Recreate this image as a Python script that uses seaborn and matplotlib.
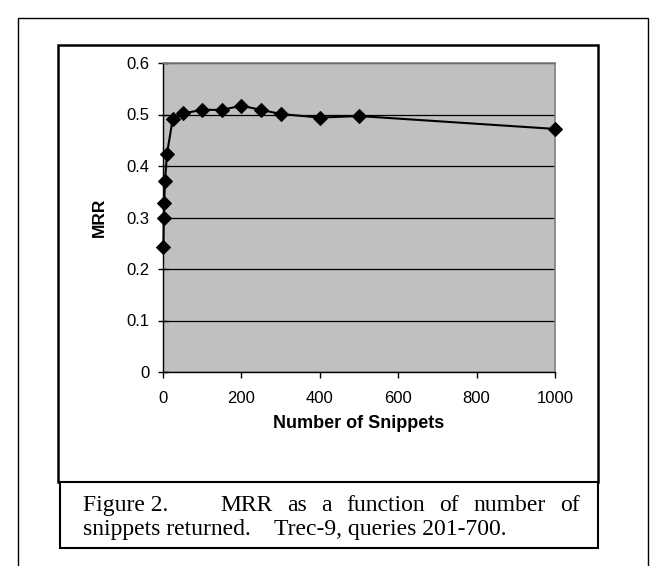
import matplotlib
matplotlib.use("Agg")
import matplotlib.pyplot as plt
import seaborn as sns
import pandas as pd
from matplotlib.patches import Rectangle

# ---- data ----
snippets = [1, 2, 3, 5, 10, 25, 50, 100, 150, 200, 250, 300, 400, 500, 1000]
mrr = [0.242, 0.300, 0.329, 0.370, 0.423, 0.492, 0.502, 0.509, 0.509, 0.517,
       0.509, 0.501, 0.494, 0.497, 0.472]
x_ticks = [0, 200, 400, 600, 800, 1000]
y_ticks = [0, 0.1, 0.2, 0.3, 0.4, 0.5, 0.6]
y_tick_labels = ["0", "0.1", "0.2", "0.3", "0.4", "0.5", "0.6"]
x_label = "Number of Snippets"
y_label = "MRR"
caption_line1_head = "Figure 2."
caption_line1_words = ["MRR", "as", "a", "function", "of", "number", "of"]
caption_line2_head = "snippets returned."
caption_line2_tail = "Trec-9, queries 201-700."

W, H = 660, 566
fig = plt.figure(figsize=(W / 100, H / 100), dpi=100)
fig.patch.set_facecolor("white")


def fx(px):
    return px / W


def fy(py):
    return 1 - py / H


sans = ["Liberation Sans", "DejaVu Sans"]
serif = ["Liberation Serif", "DejaVu Serif"]

# frames
fig.patches.append(Rectangle((fx(18), fy(570)), fx(648) - fx(18), fy(18) - fy(570),
                             transform=fig.transFigure, fill=False, lw=1.0,
                             edgecolor="black", zorder=0))
fig.patches.append(Rectangle((fx(58), fy(482)), fx(598) - fx(58), fy(45) - fy(482),
                             transform=fig.transFigure, fill=False, lw=1.8,
                             edgecolor="black", zorder=0))
fig.patches.append(Rectangle((fx(60), fy(548)), fx(598) - fx(60), fy(482) - fy(548),
                             transform=fig.transFigure, facecolor="white", lw=1.5,
                             edgecolor="black", zorder=1))

ax = fig.add_axes([fx(163), fy(372), fx(555) - fx(163), fy(63) - fy(372)])
df = pd.DataFrame({"snippets": snippets, "mrr": mrr})
sns.lineplot(data=df, x="snippets", y="mrr", ax=ax, color="black", marker="D",
             markersize=7.5, linewidth=1.5, markeredgecolor="black", clip_on=False,
             zorder=5)
ax.set_facecolor("#C0C0C0")
ax.set_xlim(0, 1000)
ax.set_ylim(0, 0.6)
ax.set_xticks(x_ticks)
ax.set_xticklabels([str(t) for t in x_ticks], fontfamily=sans, fontsize=12)
ax.set_yticks(y_ticks)
ax.set_yticklabels(y_tick_labels, fontfamily=sans, fontsize=12)
ax.tick_params(axis="x", direction="out", length=4, width=1, color="black", pad=10)
ax.tick_params(axis="y", direction="inout", length=7, width=1, color="black", pad=6)
ax.grid(axis="y", color="black", linewidth=0.9)
ax.grid(axis="x", visible=False)
ax.set_axisbelow(True)
for s in ["top", "right"]:
    ax.spines[s].set_color("#808080")
    ax.spines[s].set_linewidth(1.2)
for s in ["left", "bottom"]:
    ax.spines[s].set_color("black")
    ax.spines[s].set_linewidth(1.0)
ax.set_xlabel(x_label, fontfamily=sans, fontsize=13, fontweight="bold", labelpad=6)
ax.set_ylabel(y_label, fontfamily=sans, fontsize=12.5, fontweight="bold", labelpad=14)

# caption
cap_fs = 17
fig.text(fx(83), fy(511), caption_line1_head, fontfamily=serif, fontsize=cap_fs,
         va="baseline", ha="left")
fig.canvas.draw()
renderer = fig.canvas.get_renderer()
# justify the rest of line 1 between its start and the right margin
texts = [fig.text(0, fy(511), w, fontfamily=serif, fontsize=cap_fs,
                  va="baseline", ha="left") for w in caption_line1_words]
widths = [t.get_window_extent(renderer).width for t in texts]
start, end = 220, 580
gap = (end - start - sum(widths)) / (len(widths) - 1)
x = start
for t, w in zip(texts, widths):
    t.set_x(fx(x))
    x += w + gap
fig.text(fx(83), fy(535), caption_line2_head, fontfamily=serif, fontsize=cap_fs,
         va="baseline", ha="left")
fig.text(fx(274), fy(535), caption_line2_tail, fontfamily=serif, fontsize=cap_fs,
         va="baseline", ha="left")

fig.savefig("out.png", dpi=100)
